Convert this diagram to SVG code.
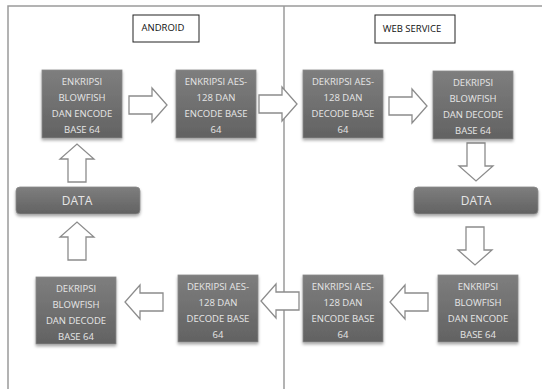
<svg xmlns="http://www.w3.org/2000/svg" width="542" height="389" viewBox="0 0 542 389">
<style>
.frame{stroke:#9a9a9a;stroke-width:1.5;fill:none}
.title{fill:#fff;stroke:#222;stroke-width:1}
.ttxt{font-family:"Open Sans","Liberation Sans",sans-serif;font-size:9.5px;fill:#111;text-anchor:middle}
.node{fill:url(#g);stroke:#8a8a8a;stroke-width:0.8;filter:url(#sh)}
.ntxt{font-family:"Open Sans","Liberation Sans",sans-serif;font-size:9.5px;fill:#e6e6e6;text-anchor:middle}
.dtxt{font-family:"Open Sans","Liberation Sans",sans-serif;font-size:12px;fill:#e6e6e6;text-anchor:middle}
.arr{fill:#fff;stroke:#8c8c8c;stroke-width:1.3;stroke-linejoin:miter}
</style>
<defs>
<linearGradient id="g" x1="0" y1="0" x2="0" y2="1">
<stop offset="0" stop-color="#7e7e7e"/>
<stop offset="1" stop-color="#626262"/>
</linearGradient>
<filter id="sh" x="-20%" y="-20%" width="140%" height="150%">
<feDropShadow dx="0" dy="2" stdDeviation="1.5" flood-color="#000" flood-opacity="0.35"/>
</filter>
<path id="ar" d="M0,-9 L23,-9 L23,-17 L38,0 L23,17 L23,9 L0,9 Z"/>
</defs>
<rect width="542" height="389" fill="#fff"/>
<g id="frame">
<path class="frame" d="M8,389 L8,6 L542,6"/>
<path class="frame" d="M284,6 L284,389"/>
</g>
<g id="android-title">
<rect class="title" x="133" y="15" width="66" height="27"/>
<text class="ttxt" x="163" y="31">ANDROID</text>
</g>
<g id="web-title">
<rect class="title" x="375" y="15" width="80" height="28"/>
<text class="ttxt" x="412" y="32">WEB SERVICE</text>
</g>
<g id="connectors">
<use href="#ar" class="arr" transform="translate(129,105)"/>
<use href="#ar" class="arr" transform="translate(259,104)"/>
<use href="#ar" class="arr" transform="translate(389,106)"/>
<use href="#ar" class="arr" transform="translate(476,143) rotate(90)"/>
<use href="#ar" class="arr" transform="translate(475,227) rotate(90)"/>
<use href="#ar" class="arr" transform="translate(428,302) rotate(180)"/>
<use href="#ar" class="arr" transform="translate(299,301) rotate(180)"/>
<use href="#ar" class="arr" transform="translate(163,302) rotate(180)"/>
<use href="#ar" class="arr" transform="translate(77,260) rotate(-90)"/>
<use href="#ar" class="arr" transform="translate(77,182) rotate(-90)"/>
</g>
<g id="n1">
<rect class="node" x="42" y="70" width="80" height="68"/>
<text class="ntxt" x="82" y="84.5">ENKRIPSI</text>
<text class="ntxt" x="82" y="100.5">BLOWFISH</text>
<text class="ntxt" x="82" y="116.5">DAN ENCODE</text>
<text class="ntxt" x="82" y="132.5">BASE 64</text>
</g>
<g id="n2">
<rect class="node" x="176" y="70" width="80" height="68"/>
<text class="ntxt" x="216" y="84.5">ENKRIPSI AES-</text>
<text class="ntxt" x="216" y="100.5">128 DAN</text>
<text class="ntxt" x="216" y="116.5">ENCODE BASE</text>
<text class="ntxt" x="216" y="132.5">64</text>
</g>
<g id="n3">
<rect class="node" x="303" y="70" width="80" height="68"/>
<text class="ntxt" x="343" y="84.5">DEKRIPSI AES-</text>
<text class="ntxt" x="343" y="100.5">128 DAN</text>
<text class="ntxt" x="343" y="116.5">DECODE BASE</text>
<text class="ntxt" x="343" y="132.5">64</text>
</g>
<g id="n4">
<rect class="node" x="433" y="71" width="80" height="68"/>
<text class="ntxt" x="473" y="85.5">DEKRIPSI</text>
<text class="ntxt" x="473" y="101.5">BLOWFISH</text>
<text class="ntxt" x="473" y="117.5">DAN DECODE</text>
<text class="ntxt" x="473" y="133.5">BASE 64</text>
</g>
<g id="data-right">
<rect class="node" x="414" y="187" width="124" height="27" rx="4"/>
<text class="dtxt" x="476" y="205">DATA</text>
</g>
<g id="n5">
<rect class="node" x="438" y="275" width="80" height="67"/>
<text class="ntxt" x="478" y="289.5">ENKRIPSI</text>
<text class="ntxt" x="478" y="305.5">BLOWFISH</text>
<text class="ntxt" x="478" y="321.5">DAN ENCODE</text>
<text class="ntxt" x="478" y="337.5">BASE 64</text>
</g>
<g id="n6">
<rect class="node" x="303" y="275" width="80" height="67"/>
<text class="ntxt" x="343" y="289.5">ENKRIPSI AES-</text>
<text class="ntxt" x="343" y="305.5">128 DAN</text>
<text class="ntxt" x="343" y="321.5">ENCODE BASE</text>
<text class="ntxt" x="343" y="337.5">64</text>
</g>
<g id="n7">
<rect class="node" x="178" y="275" width="80" height="67"/>
<text class="ntxt" x="218" y="289.5">DEKRIPSI AES-</text>
<text class="ntxt" x="218" y="305.5">128 DAN</text>
<text class="ntxt" x="218" y="321.5">DECODE BASE</text>
<text class="ntxt" x="218" y="337.5">64</text>
</g>
<g id="n8">
<rect class="node" x="36" y="277" width="80" height="67"/>
<text class="ntxt" x="76" y="291.5">DEKRIPSI</text>
<text class="ntxt" x="76" y="307.5">BLOWFISH</text>
<text class="ntxt" x="76" y="323.5">DAN DECODE</text>
<text class="ntxt" x="76" y="339.5">BASE 64</text>
</g>
<g id="data-left">
<rect class="node" x="16" y="187" width="124" height="27" rx="4"/>
<text class="dtxt" x="77" y="205">DATA</text>
</g>
</svg>
